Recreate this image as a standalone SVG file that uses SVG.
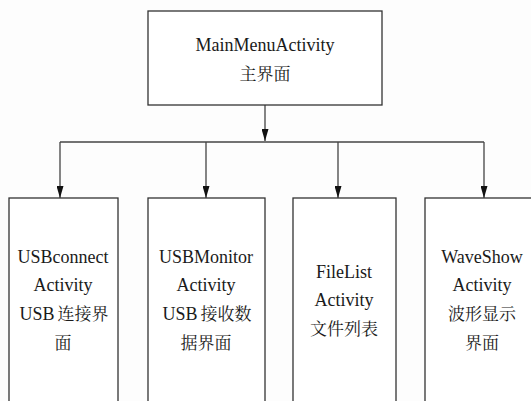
<svg xmlns="http://www.w3.org/2000/svg" width="531" height="401" viewBox="0 0 531 401">
<style>
.box{fill:#fff;stroke:#333;stroke-width:1.3}
.ln{fill:none;stroke:#444;stroke-width:1.3}
text{fill:#1a1a1a;text-anchor:middle}
.en{font-family:'Liberation Serif',serif;font-size:18px}
.cj{font-family:'Noto Serif CJK SC','Noto Sans CJK SC',serif;font-size:17px}
.c{font-family:'Noto Serif CJK SC','Noto Sans CJK SC',serif;font-size:17px}
</style>
<defs>
<marker id="arr" markerUnits="userSpaceOnUse" markerWidth="12" markerHeight="7" refX="12" refY="3.5" orient="auto" viewBox="0 0 12 7">
<path d="M0,0 L12,3.5 L0,7 Z" fill="#111"/>
</marker>
</defs>
<rect width="531" height="401" fill="#fdfdfd"/>
<g id="connectors">
<line class="ln" x1="265" y1="105" x2="265" y2="141" marker-end="url(#arr)"/>
<line class="ln" x1="60" y1="142" x2="484" y2="142"/>
<line class="ln" x1="60" y1="142" x2="60" y2="198" marker-end="url(#arr)"/>
<line class="ln" x1="206" y1="142" x2="206" y2="198" marker-end="url(#arr)"/>
<line class="ln" x1="338" y1="142" x2="338" y2="198" marker-end="url(#arr)"/>
<line class="ln" x1="484" y1="142" x2="484" y2="198" marker-end="url(#arr)"/>
</g>
<g id="main">
<rect class="box" x="148" y="11" width="234" height="94"/>
<text class="en" x="265" y="51">MainMenuActivity</text>
<text class="cj" x="265" y="80">主界面</text>
</g>
<g id="usbconnect">
<rect class="box" x="9" y="198" width="109" height="215"/>
<text class="en" x="63" y="263">USBconnect</text>
<text class="en" x="63" y="291">Activity</text>
<text class="en" x="64" y="320">USB<tspan class="c" dx="3">连接界</tspan></text>
<text class="cj" x="63" y="349">面</text>
</g>
<g id="usbmonitor">
<rect class="box" x="148" y="198" width="117" height="215"/>
<text class="en" x="206" y="263">USBMonitor</text>
<text class="en" x="206" y="291">Activity</text>
<text class="en" x="207" y="320">USB<tspan class="c" dx="3">接收数</tspan></text>
<text class="cj" x="206" y="349">据界面</text>
</g>
<g id="filelist">
<rect class="box" x="293" y="198" width="103" height="215"/>
<text class="en" x="344" y="278">FileList</text>
<text class="en" x="344" y="306">Activity</text>
<text class="cj" x="344" y="335">文件列表</text>
</g>
<g id="waveshow">
<rect class="box" x="425" y="198" width="115" height="215"/>
<text class="en" x="482" y="263">WaveShow</text>
<text class="en" x="482" y="291">Activity</text>
<text class="cj" x="482" y="320">波形显示</text>
<text class="cj" x="482" y="349">界面</text>
</g>
</svg>
